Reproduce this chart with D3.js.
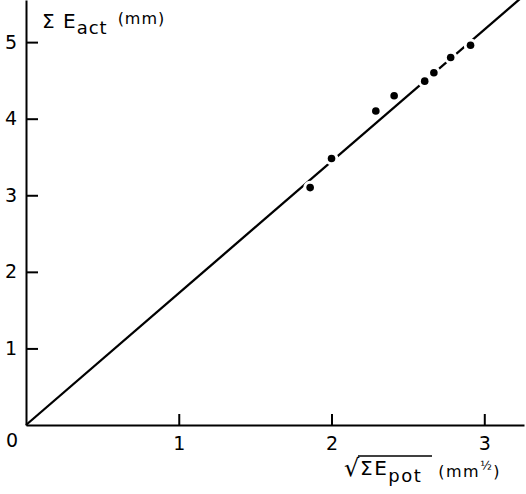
<!DOCTYPE html>
<html>
<head>
<meta charset="utf-8">
<script src="https://cdn.jsdelivr.net/npm/d3@7"></script>
<style>
  body { margin: 0; background: #fff; }
  text { font-family: "DejaVu Sans", sans-serif; fill: #000; }
</style>
</head>
<body>
<svg id="chart" width="526" height="494"></svg>
<script>
// Data
const sqrtEpot = [1.86, 2.0, 2.29, 2.41, 2.61, 2.67, 2.78, 2.91];
const eAct = [3.10, 3.48, 4.10, 4.30, 4.49, 4.60, 4.80, 4.96];
const fitLine = [[0, 0], [3.26, 5.61]];
const xTicks = [1, 2, 3];
const yTicks = [1, 2, 3, 4, 5];

const svg = d3.select("#chart");

const x = d3.scaleLinear().domain([0, 3.26]).range([26, 524]);
const y = d3.scaleLinear().domain([0, 5.55]).range([425, 0]);

// regression line (drawn first, dots cut gaps in it)
svg.append("path")
    .attr("d", d3.line().x(d => x(d[0])).y(d => y(d[1]))(fitLine))
    .attr("fill", "none")
    .attr("stroke", "#000")
    .attr("stroke-width", 2.3);

// axes
const xAxis = svg.append("g")
    .attr("transform", `translate(0,${y(0)})`)
    .call(d3.axisBottom(x).tickValues(xTicks).tickFormat(d3.format("d"))
      .tickSize(-11).tickSizeOuter(0).tickPadding(9));

const yAxis = svg.append("g")
    .attr("transform", `translate(${x(0)},0)`)
    .call(d3.axisLeft(y).tickValues(yTicks).tickFormat(d3.format("d"))
      .tickSize(-12).tickSizeOuter(0).tickPadding(9));

[xAxis, yAxis].forEach(g => {
  g.select(".domain").attr("stroke", "#000").attr("stroke-width", 2);
  g.selectAll(".tick line").attr("stroke", "#000").attr("stroke-width", 2);
  g.selectAll(".tick text").style("font-size", "19px").attr("font-family", null);
});
xAxis.selectAll(".tick text").attr("dy", "0.85em");

// origin label
svg.append("text")
    .attr("x", 12).attr("y", 447)
    .attr("text-anchor", "middle")
    .style("font-size", "19px")
    .text("0");

// points with white halo
svg.selectAll(".pt")
    .data(sqrtEpot)
  .enter().append("circle")
    .attr("class", "pt")
    .attr("cx", d => x(d))
    .attr("cy", (d, i) => y(eAct[i]))
    .attr("r", 3.8)
    .attr("fill", "#000")
    .attr("stroke", "#fff")
    .attr("stroke-width", 6)
    .attr("paint-order", "stroke");

// y label
const yl = svg.append("text").attr("x", 42).attr("y", 28)
    .style("font-size", "20px").style("letter-spacing", "1px");
yl.append("tspan").text("Σ E");
yl.append("tspan").attr("dy", 6).style("font-size", "18px").text("act");
yl.append("tspan").attr("dy", -10).attr("dx", 10).style("font-size", "16px").text("(mm)");

// x label with root sign
svg.append("text").attr("x", 344).attr("y", 476).style("font-size", "24px").text("√");
svg.append("line")
    .attr("x1", 358).attr("x2", 432).attr("y1", 456).attr("y2", 456)
    .attr("stroke", "#000").attr("stroke-width", 1.5);
const xl = svg.append("text").attr("x", 360).attr("y", 475)
    .style("font-size", "20px").style("letter-spacing", "1.5px");
xl.append("tspan").text("ΣE");
xl.append("tspan").attr("dy", 7).style("font-size", "18px").text("pot");
xl.append("tspan").attr("dy", -5).attr("dx", 16).style("font-size", "16px").text("(mm");
xl.append("tspan").attr("dy", -7).style("font-size", "12px").text("½");
xl.append("tspan").attr("dy", 7).style("font-size", "16px").text(")");
</script>
</body>
</html>
